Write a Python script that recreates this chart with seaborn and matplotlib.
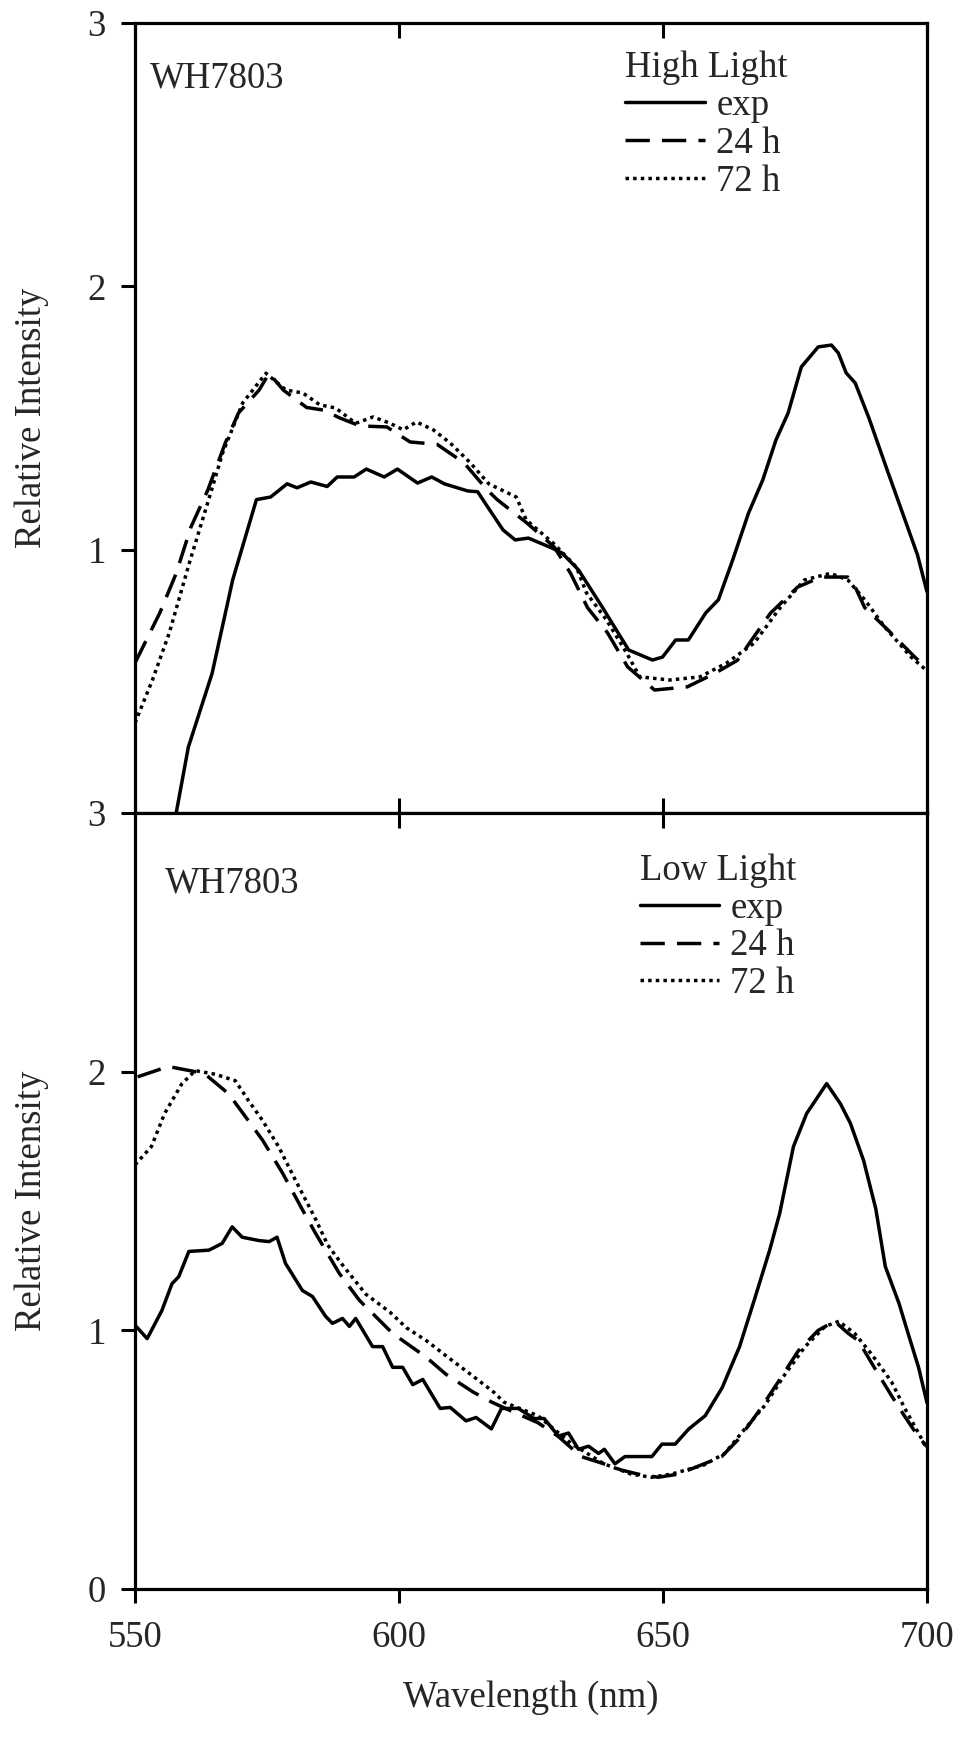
import numpy as np
import pandas as pd
import matplotlib
matplotlib.use("Agg")
import matplotlib.pyplot as plt
from matplotlib.lines import Line2D
import seaborn as sns

# ---- High light spectra (wavelength in nm, relative intensity) ----
hl_exp_nm = [557.8, 560.1, 564.6, 568.5, 573.0, 575.7, 578.8, 580.7, 583.3, 586.4, 588.3,
             591.5, 593.8, 597.2, 599.7, 603.5, 606.2, 608.6, 613.0, 614.9, 616.8, 619.7,
             622.0, 624.5, 629.0, 630.9, 634.0, 638.5, 641.5, 643.5, 648.0, 649.9, 652.4,
             654.8, 658.1, 660.5, 663.2, 666.2, 668.9, 671.4, 673.7, 676.2, 679.4, 681.9,
             683.2, 684.7, 686.4, 689.0, 692.5, 695.0, 698.2, 700.0]
hl_exp = [0.0, 0.25, 0.53, 0.885, 1.19, 1.20, 1.25, 1.235, 1.257, 1.24, 1.276,
          1.276, 1.306, 1.276, 1.306, 1.253, 1.276, 1.25, 1.223, 1.22, 1.162, 1.075,
          1.037, 1.044, 1.006, 0.987, 0.923, 0.782, 0.684, 0.619, 0.581, 0.592, 0.657,
          0.657, 0.76, 0.81, 0.961, 1.139, 1.265, 1.417, 1.519, 1.694, 1.77, 1.777,
          1.747, 1.671, 1.633, 1.50, 1.30, 1.16, 0.98, 0.84]

hl_24_nm = [550.0, 554.7, 557.8, 560.6, 563.8, 567.1, 569.6, 573.5, 575.4, 578.1, 582.5,
            585.7, 588.8, 592.6, 597.7, 602.1, 607.2, 612.3, 616.7, 618.6, 624.3, 629.4,
            632.5, 635.7, 639.5, 643.3, 648.4, 654.6, 659.8, 664.1, 670.4, 675.5, 679.9,
            685.0, 686.4, 688.2, 692.6, 697.7, 700.0]
hl_24 = [0.57, 0.76, 0.91, 1.086, 1.227, 1.405, 1.519, 1.606, 1.67, 1.606, 1.54,
         1.53, 1.50, 1.47, 1.466, 1.409, 1.40, 1.33, 1.227, 1.19, 1.10, 1.01,
         0.91, 0.78, 0.684, 0.555, 0.467, 0.479, 0.53, 0.58, 0.76, 0.858, 0.896,
         0.896, 0.858, 0.78, 0.695, 0.592, 0.55]

hl_72_nm = [550.0, 553.3, 556.5, 560.3, 564.1, 566.6, 570.4, 574.8, 578.6, 581.8, 585.0,
            588.0, 591.8, 595.1, 598.3, 600.8, 603.3, 606.5, 609.7, 613.5, 617.0, 622.2,
            624.1, 629.2, 633.6, 635.5, 639.3, 643.1, 645.6, 651.3, 657.0, 662.1, 667.3,
            672.2, 676.8, 681.7, 685.0, 688.2, 692.0, 697.0, 700.0]
hl_72 = [0.342, 0.505, 0.684, 0.95, 1.20, 1.367, 1.557, 1.67, 1.606, 1.595, 1.55,
         1.538, 1.48, 1.504, 1.48, 1.455, 1.485, 1.455, 1.405, 1.33, 1.25, 1.20,
         1.113, 1.025, 0.934, 0.836, 0.733, 0.608, 0.517, 0.505, 0.517, 0.57, 0.646,
         0.78, 0.885, 0.91, 0.885, 0.81, 0.706, 0.592, 0.54]

# ---- Low light spectra ----
ll_exp_nm = [550.0, 552.3, 555.1, 557.0, 558.3, 560.2, 564.0, 566.5, 568.4, 570.3, 573.5,
             575.4, 576.9, 578.5, 581.7, 583.6, 586.1, 587.4, 589.3, 590.6, 591.8, 595.0,
             596.9, 598.8, 600.7, 602.6, 604.5, 607.8, 609.7, 612.7, 614.6, 617.5, 619.4,
             622.6, 625.6, 627.5, 630.2, 632.1, 634.0, 635.9, 637.8, 638.9, 640.9, 642.8,
             645.4, 647.9, 649.8, 652.3, 654.9, 658.0, 661.2, 664.5, 667.5, 670.2, 672.1,
             674.7, 677.2, 681.0, 683.6, 685.5, 688.0, 690.3, 692.1, 694.7, 696.6, 698.4,
             700.0]
ll_exp = [1.02, 0.968, 1.077, 1.18, 1.208, 1.305, 1.31, 1.336, 1.40, 1.36, 1.347,
          1.343, 1.36, 1.259, 1.154, 1.131, 1.054, 1.027, 1.046, 1.015, 1.046, 0.937,
          0.937, 0.857, 0.857, 0.79, 0.81, 0.698, 0.702, 0.65, 0.663, 0.619, 0.698,
          0.698, 0.659, 0.659, 0.591, 0.603, 0.54, 0.552, 0.524, 0.54, 0.484, 0.512,
          0.512, 0.512, 0.56, 0.56, 0.619, 0.67, 0.778, 0.937, 1.131, 1.31, 1.452,
          1.71, 1.838, 1.954, 1.876, 1.80, 1.656, 1.47, 1.247, 1.104, 0.976, 0.857,
          0.72]

ll_24_nm = [550.5, 556.3, 561.4, 563.3, 567.7, 571.5, 574.2, 578.0, 581.8, 584.2, 588.7,
            592.5, 598.8, 605.1, 608.9, 614.0, 617.6, 621.8, 626.3, 630.1, 634.5, 638.8,
            642.1, 645.3, 649.1, 652.9, 657.8, 661.1, 664.3, 668.0, 671.8, 675.6, 679.4,
            682.5, 685.1, 687.0, 690.0, 693.2, 695.7, 698.3, 700.0]
ll_24 = [1.98, 2.02, 2.0, 1.99, 1.915, 1.81, 1.734, 1.606, 1.463, 1.375, 1.22,
         1.116, 0.988, 0.897, 0.83, 0.762, 0.722, 0.683, 0.643, 0.591, 0.512, 0.484,
         0.46, 0.444, 0.432, 0.444, 0.484, 0.512, 0.579, 0.683, 0.80, 0.92, 1.0,
         1.035, 0.988, 0.96, 0.857, 0.75, 0.67, 0.591, 0.55]

ll_72_nm = [550.0, 553.1, 555.6, 558.9, 561.4, 565.2, 569.0, 571.5, 574.2, 577.2, 580.4,
            584.2, 586.5, 589.4, 593.7, 598.3, 601.4, 605.2, 609.0, 614.2, 618.0, 619.9,
            626.3, 632.6, 638.8, 644.0, 647.8, 651.6, 657.8, 661.7, 665.5, 669.3, 673.1,
            676.9, 680.7, 683.3, 686.3, 689.5, 693.3, 695.8, 699.0, 700.0]
ll_72 = [1.64, 1.71, 1.838, 1.954, 2.004, 1.99, 1.965, 1.888, 1.81, 1.71, 1.58,
         1.43, 1.33, 1.25, 1.14, 1.07, 1.01, 0.96, 0.90, 0.82, 0.76, 0.722,
         0.67, 0.563, 0.484, 0.444, 0.432, 0.444, 0.48, 0.524, 0.619, 0.71, 0.83,
         0.937, 1.015, 1.035, 0.988, 0.908, 0.80, 0.698, 0.58, 0.54]

series_names = ["exp", "24 h", "72 h"]
panel_titles = ["High Light", "Low Light"]
strain = "WH7803"
x_ticks = [550, 600, 650, 700]


def frame(nm, vals, name):
    return pd.DataFrame({"wavelength": nm, "intensity": vals, "series": name})


high = pd.concat([frame(hl_exp_nm, hl_exp, "exp"),
                  frame(hl_24_nm, hl_24, "24 h"),
                  frame(hl_72_nm, hl_72, "72 h")], ignore_index=True)
low = pd.concat([frame(ll_exp_nm, ll_exp, "exp"),
                 frame(ll_24_nm, ll_24, "24 h"),
                 frame(ll_72_nm, ll_72, "72 h")], ignore_index=True)

sns.set_style("white")
plt.rcParams["font.family"] = ["Liberation Serif", "DejaVu Serif"]

FS = 26.5
LW = 2.5
SPINE_W = 2.3
dash_map = {"exp": "", "24 h": (7, 3.5), "72 h": (1, 1.2)}

fig = plt.figure(figsize=(9.72, 17.45), dpi=100)
gs = fig.add_gridspec(2, 1, height_ratios=[790, 776], hspace=0,
                      left=135 / 972, right=927 / 972,
                      top=1 - 23 / 1745, bottom=1 - 1589 / 1745)
ax1 = fig.add_subplot(gs[0])
ax2 = fig.add_subplot(gs[1], sharex=ax1)

for ax, df in ((ax1, high), (ax2, low)):
    sns.lineplot(data=df, x="wavelength", y="intensity", style="series",
                 style_order=series_names, dashes=dash_map, color="black",
                 linewidth=LW, sort=False, estimator=None, legend=False, ax=ax)
    for ln in ax.lines:
        ln.set_solid_capstyle("round")
    for s in ax.spines.values():
        s.set_color("black")
        s.set_linewidth(SPINE_W)

ax1.set_xlim(550, 700)
ax1.set_ylim(0, 3)
ax2.set_ylim(0, 3)

# y axes
ax1.set_yticks([0, 1, 2, 3])
ax1.set_yticklabels(["3", "1", "2", "3"])
ax2.set_yticks([0, 1, 2])
ax2.set_yticklabels(["0", "1", "2"])
for ax in (ax1, ax2):
    ax.tick_params(axis="y", direction="out", left=True, right=False,
                   length=10, width=2.2, pad=11, labelsize=FS, color="black")
    ax.set_ylabel("Relative Intensity", fontsize=FS)
    ax.yaxis.set_label_coords(-0.108, 0.5)

# x axes
ax1.set_xticks(x_ticks)
ax1.tick_params(axis="x", direction="in", top=True, bottom=True,
                labelbottom=False, length=11, width=2.2, color="black")
ax2.tick_params(axis="x", direction="out", top=False, bottom=True,
                length=10, width=2.2, pad=13, labelsize=FS, color="black")
ax2.set_xticks(x_ticks)
ax2.set_xticklabels([str(t) for t in x_ticks])
sec = ax2.secondary_xaxis("top")
sec.set_xticks([600, 650])
sec.tick_params(axis="x", direction="in", length=11, width=2.2,
                labeltop=False, color="black")
sec.spines["top"].set_visible(False)
ax1.set_xlabel("")
ax2.set_xlabel("Wavelength (nm)", fontsize=FS, labelpad=18)

# strain annotation and legend for each panel
panel_layout = [(ax1, panel_titles[0], 0.019, 0.918, 0.619, 0.965),
                (ax2, panel_titles[1], 0.038, 0.897, 0.637, 0.948)]
for ax, title, tx, ty, lx, ly in panel_layout:
    ax.text(tx, ty, strain, transform=ax.transAxes,
            fontsize=FS, va="baseline", ha="left")
    handles = [Line2D([], [], color="black", lw=LW, linestyle="-"),
               Line2D([], [], color="black", lw=LW, linestyle=(0, dash_map["24 h"])),
               Line2D([], [], color="black", lw=LW, linestyle=(0, dash_map["72 h"]))]
    ax.legend(handles, series_names, title=title, loc="upper left",
              bbox_to_anchor=(lx, ly), frameon=False, fontsize=FS,
              title_fontsize=FS, alignment="left", handlelength=2.17,
              handletextpad=0.3, labelspacing=0.09, borderpad=0.0,
              borderaxespad=0.0)

fig.savefig("out.png", dpi=100, facecolor="white")
